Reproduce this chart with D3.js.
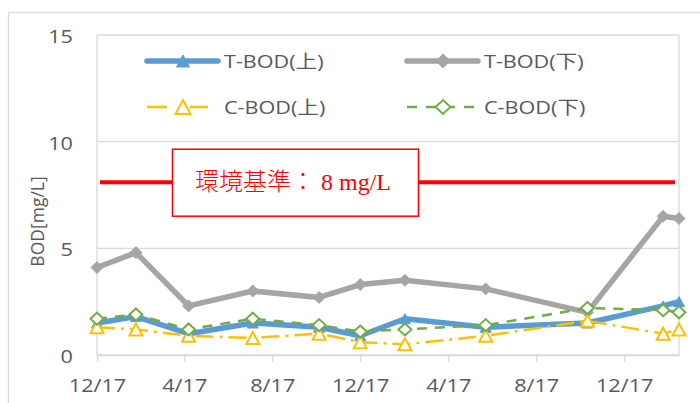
<!DOCTYPE html>
<html lang="ja">
<head>
<meta charset="utf-8">
<title>BOD</title>
<script src="https://cdn.jsdelivr.net/npm/d3@7"></script>
<style>
  html, body { margin: 0; padding: 0; background: #fff; }
  svg { display: block; }
  text { font-family: "Open Sans", "Noto Sans CJK JP", sans-serif; fill: #595959; }
</style>
</head>
<body>
<div id="chart"></div>
<script>
(function () {
  "use strict";

  // sampling dates and measured values (mg/L)
  var SAMPLE_DATES = ["2018-12-17", "2019-02-09", "2019-04-23", "2019-07-21", "2019-10-21", "2019-12-17",
                      "2020-02-17", "2020-06-08", "2020-10-27", "2021-02-09", "2021-03-03"];
  var T_BOD_UP   = [1.5, 1.8, 1.0, 1.5, 1.3, 0.9, 1.7, 1.3, 1.5, 2.3, 2.5];
  var T_BOD_DOWN = [4.1, 4.8, 2.3, 3.0, 2.7, 3.3, 3.5, 3.1, 2.0, 6.5, 6.4];
  var C_BOD_UP   = [1.3, 1.2, 0.9, 0.8, 1.0, 0.6, 0.5, 0.9, 1.6, 1.0, 1.2];
  var C_BOD_DOWN = [1.7, 1.9, 1.2, 1.7, 1.4, 1.1, 1.2, 1.4, 2.2, 2.1, 2.0];
  var SERIES_NAMES = ["T-BOD(上)", "T-BOD(下)", "C-BOD(上)", "C-BOD(下)"];

  var X_TICK_DATES = ["2018-12-17", "2019-04-17", "2019-08-17", "2019-12-17", "2020-04-17", "2020-08-17", "2020-12-17"];
  var Y_TICKS = [0, 5, 10, 15];
  var Y_TITLE = "BOD[mg/L]";
  var STANDARD_VALUE = 8.1;
  var STANDARD_LABEL = "環境基準： 8 mg/L";

  var W = 700, H = 403;
  var PLOT = { left: 97, right: 679, top: 35, bottom: 355 };
  var GRID = "#D9D9D9";
  var TEXT_SCALE = "scale(1.2,1)";
  var TICK_SCALE = "scale(1.14,1)";

  var parse = d3.utcParse("%Y-%m-%d");
  var dates = SAMPLE_DATES.map(parse);

  var series = [
    { name: SERIES_NAMES[0], values: T_BOD_UP, color: "#5B9BD5", width: 5.5, dash: null, marker: "triangle", hollow: false, size: [11, 10] },
    { name: SERIES_NAMES[1], values: T_BOD_DOWN, color: "#A5A5A5", width: 5.5, dash: null, marker: "diamond", hollow: false, size: [12, 12] },
    { name: SERIES_NAMES[2], values: C_BOD_UP, color: "#FFC000", width: 2.5, dash: "18,6,3,6", marker: "triangle", hollow: true, size: [13, 12] },
    { name: SERIES_NAMES[3], values: C_BOD_DOWN, color: "#70AD47", width: 2.5, dash: "10,8", marker: "diamond", hollow: true, size: [13, 12] }
  ];

  function markerPath(kind, w, h) {
    if (kind === "triangle") {
      return "M0," + (-h / 2) + "L" + (w / 2) + "," + (h / 2) + "L" + (-w / 2) + "," + (h / 2) + "Z";
    }
    return "M0," + (-h / 2) + "L" + (w / 2) + ",0L0," + (h / 2) + "L" + (-w / 2) + ",0Z";
  }

  var x = d3.scaleUtc().domain([dates[0], dates[dates.length - 1]]).range([PLOT.left, PLOT.right]);
  var y = d3.scaleLinear().domain([0, 15]).range([PLOT.bottom, PLOT.top]);

  var svg = d3.select("#chart").append("svg")
    .attr("width", W).attr("height", H)
    .attr("viewBox", [0, 0, W, H]);

  // chart area border
  svg.append("rect")
    .attr("x", 8.5).attr("y", 12.5).attr("width", W).attr("height", H)
    .attr("fill", "#fff").attr("stroke", GRID).attr("stroke-width", 1.3);

  // gridlines
  svg.append("g").selectAll("line")
    .data(Y_TICKS)
    .join("line")
    .attr("x1", PLOT.left).attr("x2", PLOT.right)
    .attr("y1", function (d) { return y(d); }).attr("y2", function (d) { return y(d); })
    .attr("stroke", GRID).attr("stroke-width", 1.3);

  // plot area sides
  svg.append("g").selectAll("line")
    .data(x.range())
    .join("line")
    .attr("x1", function (d) { return d; }).attr("x2", function (d) { return d; })
    .attr("y1", y(15)).attr("y2", y(0))
    .attr("stroke", GRID).attr("stroke-width", 1.3);

  // x axis
  var xAxis = svg.append("g")
    .attr("transform", "translate(0," + PLOT.bottom + ")")
    .call(d3.axisBottom(x)
      .tickValues(X_TICK_DATES.map(parse))
      .tickSize(7).tickSizeOuter(0)
      .tickFormat(d3.utcFormat("%-m/%-d")));
  xAxis.select(".domain").attr("stroke", GRID).attr("stroke-width", 1.3);
  xAxis.selectAll(".tick line").attr("stroke", GRID).attr("stroke-width", 1.3);
  xAxis.selectAll("text")
    .attr("y", 37).attr("dy", null)
    .attr("transform", TICK_SCALE)
    .attr("fill", "#595959")
    .style("font-size", "19px");

  // y axis
  var yAxis = svg.append("g")
    .attr("transform", "translate(" + PLOT.left + ",0)")
    .call(d3.axisLeft(y).tickValues(Y_TICKS).tickSize(0).tickPadding(0));
  yAxis.select(".domain").remove();
  yAxis.selectAll("text")
    .attr("x", -24 / 1.14).attr("dy", "0.4em")
    .attr("transform", TICK_SCALE)
    .attr("fill", "#595959")
    .style("font-size", "19px");

  svg.append("text")
    .attr("transform", "translate(44,221.5) rotate(-90)")
    .attr("text-anchor", "middle")
    .style("font-size", "17.5px")
    .text(Y_TITLE);

  // environmental standard line and label
  var ys = y(STANDARD_VALUE);
  svg.append("line")
    .attr("x1", PLOT.left + 3).attr("x2", PLOT.right - 4)
    .attr("y1", ys).attr("y2", ys)
    .attr("stroke", "#FF0000").attr("stroke-width", 4);
  svg.append("rect")
    .attr("x", 172.5).attr("y", ys - 33).attr("width", 246).attr("height", 67)
    .attr("fill", "#fff").attr("stroke", "#FF0000").attr("stroke-width", 1.5);
  svg.append("text")
    .attr("x", 195).attr("y", ys + 8)
    .style("font-family", "'Liberation Serif', 'Noto Sans CJK JP', serif")
    .style("font-size", "24px")
    .style("font-weight", 300)
    .style("fill", "#FF0000")
    .text(STANDARD_LABEL);

  // series
  var line = d3.line()
    .x(function (d) { return x(d.date); })
    .y(function (d) { return y(d.value); });

  series.forEach(function (s) {
    var pts = s.values.map(function (v, i) { return { date: dates[i], value: v }; });
    var g = svg.append("g");
    g.append("path")
      .datum(pts)
      .attr("d", line)
      .attr("fill", "none")
      .attr("stroke", s.color)
      .attr("stroke-width", s.width)
      .attr("stroke-linejoin", "round")
      .attr("stroke-linecap", s.dash ? "butt" : "round")
      .attr("stroke-dasharray", s.dash);
    g.selectAll(".m")
      .data(pts)
      .join("path")
      .attr("class", "m")
      .attr("transform", function (d) { return "translate(" + x(d.date) + "," + y(d.value) + ")"; })
      .attr("d", markerPath(s.marker, s.size[0], s.size[1]))
      .attr("fill", s.hollow ? "#fff" : s.color)
      .attr("stroke", s.color)
      .attr("stroke-width", s.hollow ? 2 : 1);
  });

  // legend
  var LEGEND_ROWS = [61, 107];
  var LEGEND_COLS = [147, 407];
  var legendDash = ["", "", "20,23,18", "10,9"];
  series.forEach(function (s, i) {
    var lx = LEGEND_COLS[i % 2];
    var ly = LEGEND_ROWS[Math.floor(i / 2)];
    var g = svg.append("g").attr("transform", "translate(" + lx + "," + ly + ")");
    g.append("line")
      .attr("x1", 0).attr("x2", 71).attr("y1", 0).attr("y2", 0)
      .attr("stroke", s.color)
      .attr("stroke-width", s.width)
      .attr("stroke-linecap", s.dash ? "butt" : "round")
      .attr("stroke-dasharray", legendDash[i] || null);
    g.append("path")
      .attr("transform", "translate(36,0)")
      .attr("d", markerPath(s.marker, s.size[0] + 2, s.size[1] + 2))
      .attr("fill", s.hollow ? "#fff" : s.color)
      .attr("stroke", s.color)
      .attr("stroke-width", s.hollow ? 2 : 1);
    g.append("text")
      .attr("transform", "translate(77,6.5) " + TEXT_SCALE)
      .style("font-size", "18px")
      .text(s.name);
  });
})();
</script>
</body>
</html>
